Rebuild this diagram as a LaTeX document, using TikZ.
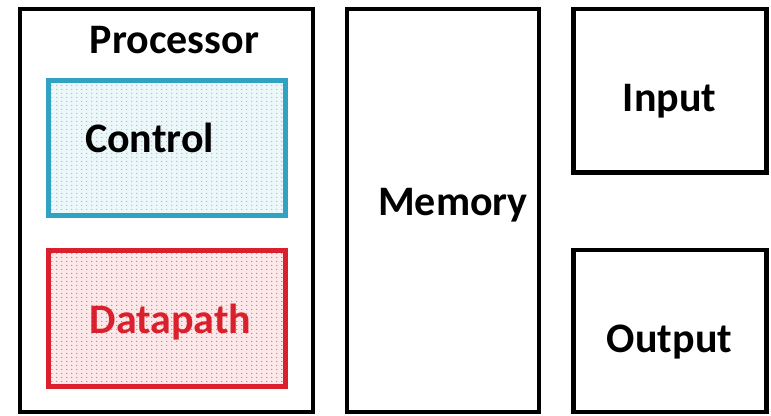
\documentclass[tikz,border=0pt]{standalone}
\usepackage{fontspec}
\setmainfont{Carlito}
\usetikzlibrary{patterns.meta}
\definecolor{ctrlblue}{RGB}{47,163,193}
\definecolor{ctrldot}{RGB}{100,185,215}
\definecolor{dpred}{RGB}{218,32,44}
\definecolor{dpdot}{RGB}{226,60,72}
\tikzdeclarepattern{name=sdots,type=uncolored,
  bounding box={(0pt,0pt) and (4.5pt,4pt)},tile size={(4.5pt,4pt)},
  code={\pgfpathcircle{\pgfpoint{2pt}{2pt}}{0.65pt}\pgfusepath{fill}}}
\begin{document}
\begin{tikzpicture}[x=1pt,y=-1pt,
  blk/.style={draw=black,line width=4.5pt,inner sep=0pt,outer sep=0pt,rectangle},
  cbox/.style={draw=ctrlblue,line width=5pt,inner sep=0pt,outer sep=0pt,rectangle,preaction={fill=ctrldot!12},pattern=sdots,pattern color=ctrldot},
  dbox/.style={draw=dpred,line width=5pt,inner sep=0pt,outer sep=0pt,rectangle,preaction={fill=dpdot!12},pattern=sdots,pattern color=dpdot},
  lbl/.style={font=\fontsize{42}{44}\selectfont\bfseries,anchor=base,inner sep=0pt}]
\useasboundingbox (0,0) rectangle (771,415);
\node[blk,minimum width=293pt,minimum height=403pt] (proc) at (166.5,210.5) {};
\node[cbox,minimum width=236.5pt,minimum height=135pt] (ctrl) at (166.75,147.5) {};
\node[dbox,minimum width=236.5pt,minimum height=136pt] (dp) at (166.75,318) {};
\node[blk,minimum width=192pt,minimum height=403pt] (mem) at (443,210.5) {};
\node[blk,minimum width=193pt,minimum height=163.5pt] (in) at (670,90.75) {};
\node[blk,minimum width=193pt,minimum height=162pt] (out) at (670,331) {};
\node[lbl] (proct) at (174.5,53) {Processor};
\node[lbl] (ctrlt) at (149.5,152) {Control};
\node[lbl,text=dpred] (dpt) at (170.5,333) {Datapath};
\node[lbl] (memt) at (453,215) {Memory};
\node[lbl] (int) at (669.5,111) {Input};
\node[lbl] (outt) at (669.5,352) {Output};
\end{tikzpicture}
\end{document}
